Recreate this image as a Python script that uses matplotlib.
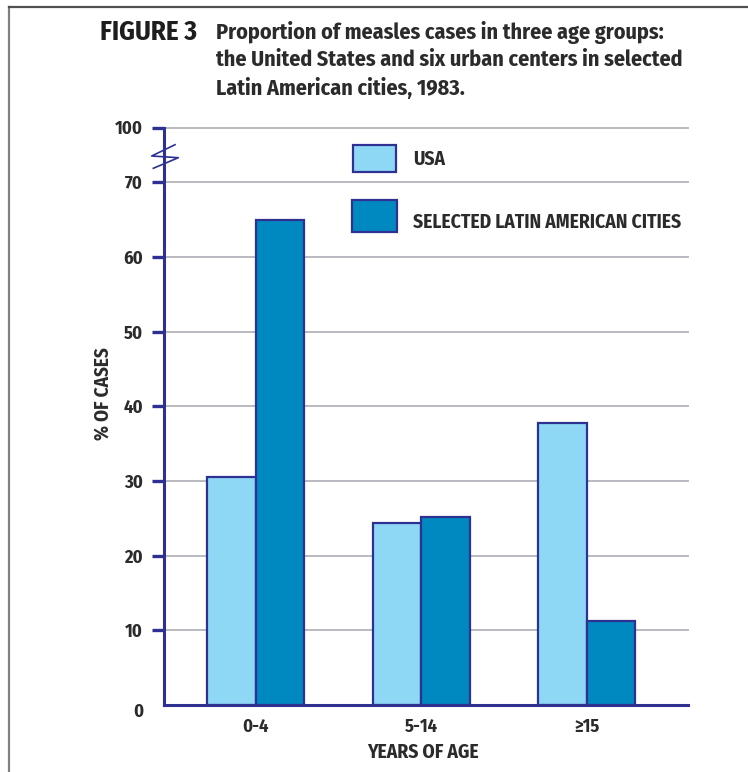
import matplotlib
matplotlib.use("Agg")
import matplotlib.pyplot as plt
import numpy as np
from matplotlib import font_manager
from matplotlib.patches import Rectangle
from matplotlib.lines import Line2D
import matplotlib.transforms as mtransforms

names = {f.name for f in font_manager.fontManager.ttflist}
candidates = ["Fira Sans Condensed", "PT Sans Narrow", "Open Sans Condensed",
              "Roboto Condensed", "Encode Sans Condensed", "Liberation Sans Narrow",
              "Open Sans"]
FONT = next((c for c in candidates if c in names), "DejaVu Sans")
plt.rcParams['font.family'] = [FONT, 'DejaVu Sans']

# ---- data ----
categories = ["0-4", "5-14", "\u226515"]
usa = [30.5, 24.4, 37.8]
latam = [65.0, 25.2, 11.3]
series_names = ["USA", "SELECTED LATIN AMERICAN CITIES"]
yticks = [0, 10, 20, 30, 40, 50, 60, 70, 100]
title_tag = "FIGURE 3"
title_lines = ["Proportion of measles cases in three age groups:",
               "the United States and six urban centers in selected",
               "Latin American cities, 1983."]

NAVY = "#2E3192"
LIGHT = "#8ED8F6"
DARK = "#0089C1"
GRID = "#B9B9C0"
TXT = "#2B2B2B"

W, H = 748, 772
fig = plt.figure(figsize=(W / 100, H / 100), dpi=100)
renderer = fig.canvas.get_renderer()

def fx(px):
    return px / W

def fy(py):
    return 1 - py / H

def fit(t, target, vertical=False):
    """scale font size so the text's extent matches the target pixel size"""
    for _ in range(3):
        bb = t.get_window_extent(renderer)
        cur = bb.height if vertical else bb.width
        if cur > 0:
            t.set_fontsize(t.get_fontsize() * target / cur)

# broken scale: linear 0-70, compressed 70-100
K = (182.3 - 127.5) / 30 / ((705 - 182.3) / 70)

def fwd(y):
    y = np.asarray(y, dtype=float)
    return np.where(y <= 70, y, 70 + (y - 70) * K)

def inv(v):
    v = np.asarray(v, dtype=float)
    return np.where(v <= 70, v, 70 + (v - 70) / K)

ax_l, ax_r, ax_t, ax_b = 164, 688, 127.5, 705
ax_h = ax_b - ax_t
ax_w = ax_r - ax_l
ax = fig.add_axes([fx(ax_l), fy(ax_b), fx(ax_w), ax_h / H])
ax.set_yscale('function', functions=(fwd, inv))
ax.set_ylim(0, 100)

x = np.arange(len(categories))
bw = 0.292
ax.bar(x - bw / 2, usa, width=bw, color=LIGHT, edgecolor=NAVY, linewidth=1.6, zorder=3)
ax.bar(x + bw / 2, latam, width=bw, color=DARK, edgecolor=NAVY, linewidth=1.6, zorder=3)
ax.set_xlim(-0.554, 2.612)

ax.set_yticks(yticks)
ax.set_yticklabels([str(t) for t in yticks])
ax.yaxis.grid(True, color=GRID, linewidth=1.4, zorder=0)
ax.set_axisbelow(True)
ax.tick_params(axis='y', length=9, width=2.4, color=NAVY, pad=6,
               labelsize=13, labelcolor=TXT)
ticks = ax.yaxis.get_major_ticks()
for tk in ticks:
    tk.gridline.set_clip_on(False)
for lab in ax.get_yticklabels():
    lab.set_fontweight('bold')
ticks[0].tick1line.set_visible(False)
ticks[0].gridline.set_visible(False)
off = mtransforms.ScaledTranslation(0, -5 / 100, fig.dpi_scale_trans)
ticks[0].label1.set_transform(ticks[0].label1.get_transform() + off)

ax.set_xticks(x)
ax.set_xticklabels(categories, fontsize=13, fontweight='bold', color=TXT)
ax.tick_params(axis='x', length=0, pad=9.5)

for s in ['top', 'right']:
    ax.spines[s].set_visible(False)
ax.spines['left'].set_color(NAVY)
ax.spines['left'].set_linewidth(2.2)
ax.spines['bottom'].set_color(NAVY)
ax.spines['bottom'].set_linewidth(2.2)
ax.spines['bottom'].set_zorder(4)

ax.set_ylabel("% OF CASES", fontsize=13, fontweight='bold', color=TXT)
ax.set_xlabel("YEARS OF AGE", fontsize=13, fontweight='bold', color=TXT)
fit(ax.yaxis.label, 93, vertical=True)
fit(ax.xaxis.label, 111)
ax.yaxis.set_label_coords((112.7 - ax_l) / ax_w, (ax_b - 393.3) / ax_h)
ax.xaxis.set_label_coords((422.5 - ax_l) / ax_w, (ax_b - 743) / ax_h)
# y tick labels: "100" about 27.6 px wide
ylab100 = ax.get_yticklabels()[-1]
bb = ylab100.get_window_extent(renderer)
tick_fs = 13 * 27.6 / bb.width if bb.width > 0 else 13
ax.tick_params(axis='y', labelsize=tick_fs)
ax.tick_params(axis='x', labelsize=tick_fs)

# break symbol
zx = [175, 151.7, 178.3, 153.3]
zy = [144.7, 156, 157.7, 168.3]
fig.add_artist(Line2D([fx(v) for v in zx], [fy(v) for v in zy], color=NAVY,
                      linewidth=1.2, transform=fig.transFigure))

# legend
leg_boxes = [(353, 145, 43, 27, LIGHT), (352, 200, 45, 32, DARK)]
leg_text_y = [159, 222]
leg_texts = []
for (lx, ly, lw, lh, c), name, ty in zip(leg_boxes, series_names, leg_text_y):
    fig.add_artist(Rectangle((fx(lx), fy(ly + lh)), fx(lw), lh / H, facecolor=c,
                             edgecolor=NAVY, linewidth=1.6, transform=fig.transFigure))
    leg_texts.append(fig.text(fx(413), fy(ty), name, fontsize=12, fontweight='bold',
                              color=TXT, ha='left', va='center'))
fit(leg_texts[1], 267)
leg_texts[0].set_fontsize(leg_texts[1].get_fontsize())

# title
tag = fig.text(fx(100), fy(32), title_tag, fontsize=16, fontweight='bold', color="#1E1E1E",
               ha='left', va='center')
fit(tag, 97)
tl = []
for i, line in enumerate(title_lines):
    tl.append(fig.text(fx(216), fy(32 + 28 * i), line, fontsize=16, fontweight='bold',
                       color=TXT, ha='left', va='center'))
fit(tl[0], 448)
for t in tl[1:]:
    t.set_fontsize(tl[0].get_fontsize())

# frame
fig.add_artist(Line2D([fx(8.5), fx(8.5)], [0, fy(6.5)], color="#808080", linewidth=1.6,
                      transform=fig.transFigure))
fig.add_artist(Line2D([fx(8.5), 1], [fy(6.5), fy(6.5)], color="#505050", linewidth=1.6,
                      transform=fig.transFigure))

fig.savefig("out.png", dpi=100)
